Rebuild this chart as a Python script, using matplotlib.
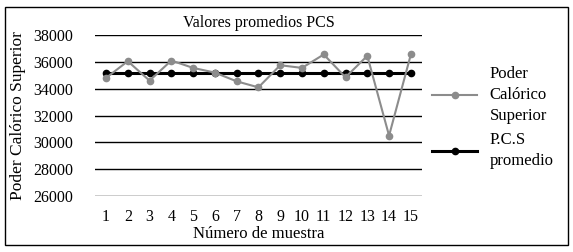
import matplotlib.pyplot as plt
from matplotlib.patches import Rectangle

plt.rcParams['font.family'] = ['Liberation Serif', 'DejaVu Serif']

muestras = list(range(1, 16))
pcs = [34800, 36050, 34600, 36100, 35550, 35200, 34550, 34100, 35750,
       35550, 36550, 34850, 36450, 30500, 36550]
pcs_promedio = [35150] * 15
yticks = [26000, 28000, 30000, 32000, 34000, 36000, 38000]

fig = plt.figure(figsize=(5.73, 2.52), dpi=100)
ax = fig.add_axes([0.166, 0.222, 0.570, 0.639])

for y in yticks:
    ax.axhline(y, color='black', linewidth=1.0, zorder=1)

ax.plot(muestras, pcs, color='#8c8c8c', linewidth=1.5, marker='o',
        markersize=4.5, label='Poder\nCalórico\nSuperior', zorder=3)
ax.plot(muestras, pcs_promedio, color='black', linewidth=2.2, marker='o',
        markersize=4.5, label='P.C.S\npromedio', zorder=2)

ax.set_xlim(0.5, 15.5)
ax.set_ylim(26000, 38000)
ax.set_xticks(muestras)
ax.set_yticks(yticks)
ax.tick_params(length=0, labelsize=11.5)
ax.tick_params(axis='y', pad=16)
ax.tick_params(axis='x', pad=9)
for s in ax.spines.values():
    s.set_visible(False)

ax.set_title('Valores promedios PCS', fontsize=11.5, pad=6)
ax.set_xlabel('Número de muestra', fontsize=12, labelpad=1)
ax.set_ylabel('Poder Calórico Superior', fontsize=12.5, labelpad=5)

fig.legend(loc='center left', bbox_to_anchor=(0.728, 0.534), frameon=False,
           fontsize=12, handlelength=2.7, handletextpad=0.75, labelspacing=0.5)
plt.setp(fig.legends[0].get_texts(), linespacing=1.4)

fig.patches.append(Rectangle((5 / 573, 7 / 252), 563 / 573, 238 / 252,
                             transform=fig.transFigure, fill=False,
                             edgecolor='black', linewidth=1.0))

fig.savefig('out.png', dpi=100)
